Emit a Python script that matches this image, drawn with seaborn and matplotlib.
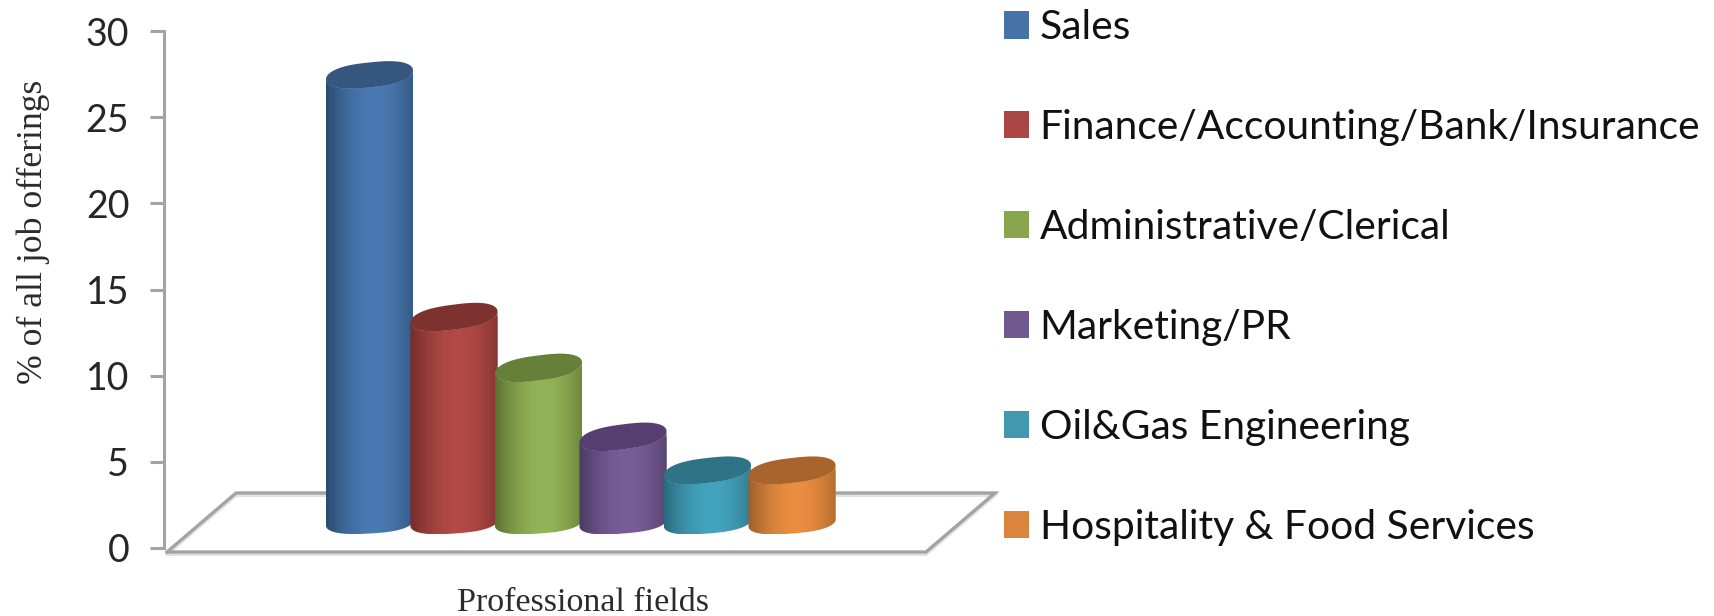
import numpy as np
import pandas as pd
import matplotlib
matplotlib.use("Agg")
import matplotlib.pyplot as plt
from matplotlib.patches import Polygon
from matplotlib.colors import to_rgb
import seaborn as sns

# ---- data ----
fields = ["Sales", "Finance/Accounting/Bank/Insurance", "Administrative/Clerical",
          "Marketing/PR", "Oil&Gas Engineering", "Hospitality & Food Services"]
percent = [26.0, 11.95, 9.0, 5.0, 3.05, 3.05]
yticks = [0, 5, 10, 15, 20, 25, 30]
ylabel = "% of all job offerings"
xlabel = "Professional fields"

# ---- style ----
face_colors = ["#4573A7", "#AA4643", "#89A54E", "#71588F", "#4198AF", "#DB843D"]
mid_colors = ["#4A7AB3", "#B24A47", "#93B558", "#785E99", "#44A4BF", "#EC8E42"]
edge_colors = ["#2B4A70", "#742C2A", "#5A7030", "#4A3A60", "#2A6A7C", "#9A5E28"]
top_colors = ["#34567F", "#7D3230", "#66803A", "#563F70", "#2F7386", "#A8642C"]
top_rise_px = [9, 11, 11, 11, 10, 10]
base_rise_px = [5, 6, 6, 7, 7, 7]
top_minor_px = 12.5
base_minor_px = 10.5
W, H = 1715, 616
AX_L, AX_R, AX_T, AX_B = 164, 925, 31, 548
PITCH = 84.5
FIRST = 369.5
BASE = 1.45
GRAY = "#a3a3a3"

sns.set_theme(style="white")
plt.rcParams["font.family"] = ["Lato", "DejaVu Sans"]

fig = plt.figure(figsize=(W / 100, H / 100), dpi=100, facecolor="white")
ax = fig.add_axes([AX_L / W, 1 - AX_B / H, (AX_R - AX_L) / W, (AX_B - AX_T) / H])
ax.patch.set_alpha(0)

df = pd.DataFrame({"field": fields, "percent": percent})
sns.barplot(data=df, x="field", y="percent", hue="field", order=fields, hue_order=fields,
            palette=face_colors, saturation=1, width=1.03, dodge=False, legend=True,
            ax=ax, zorder=3, linewidth=0)

ax.set_ylim(0, 30)
ax.set_xlim((AX_L - FIRST) / PITCH, (AX_R - FIRST) / PITCH)
ax.set_yticks(yticks)
ax.set_xticks([])
ax.set_xlabel("")
ax.set_ylabel("")
for s in ["top", "right", "bottom"]:
    ax.spines[s].set_visible(False)
ax.spines["left"].set_color(GRAY)
ax.spines["left"].set_linewidth(2.2)
ax.tick_params(axis="y", left=True, length=10, width=2.2, color=GRAY, pad=15,
               labelsize=27, labelcolor="#262626")

# floor (decoration, in figure pixels)
fig_px = lambda x, y: (x / W, 1 - y / H)
floor = [(167, 552), (236, 493), (995, 493), (926, 552), (167, 552)]
for off, col, lw in [(2.5, "#e2e2e2", 2.2), (0, GRAY, 2.4)]:
    xs, ys = zip(*[fig_px(x, y + off) for x, y in floor])
    ax.plot(xs, ys, transform=fig.transFigure, color=col, lw=lw, clip_on=False,
            zorder=1, solid_joinstyle="miter")

# cylinders from the bars seaborn drew
px_y = 30 / (AX_B - AX_T)
t = np.linspace(0, 2 * np.pi, 240)
bars = [p for c in ax.containers for p in c]
bars = sorted([b for b in bars if b.get_height() > 0], key=lambda r: r.get_x())
for i, b in enumerate(bars):
    b.set_y(BASE)
    x0, w = b.get_x(), b.get_width()
    cx = x0 + w / 2
    y_top = b.get_y() + b.get_height()
    y_bot = b.get_y()
    a = w / 2
    st = top_rise_px[i] * px_y / w
    sb = base_rise_px[i] * px_y / w

    def ell(cy, shear, minor, tt):
        # squared ellipse: the rims in the reference have full shoulders
        c, s = np.cos(tt), np.sin(tt)
        dx = a * np.sign(c) * np.abs(c) ** 0.75
        dy = minor * px_y * np.sign(s) * np.abs(s) ** 0.95
        return np.c_[cx + dx, cy + dy + shear * dx]

    lower = np.linspace(np.pi, 2 * np.pi, 120)
    top_lower = ell(y_top, st, top_minor_px, lower)
    base_lower = ell(y_bot, sb, base_minor_px, lower)
    outline = np.vstack([base_lower, top_lower[::-1]])
    body = Polygon(outline, closed=True, transform=ax.transData, fc="none", ec="none")
    ax.add_patch(body)
    b.set_clip_path(body)

    u = np.linspace(0, 1, 256)
    shade = np.clip(np.abs(u - 0.55) / 0.55, 0, 1) ** 1.8
    c_mid, c_edge = np.array(to_rgb(mid_colors[i])), np.array(to_rgb(edge_colors[i]))
    grad = (c_mid[None, :] * (1 - shade[:, None]) + c_edge[None, :] * shade[:, None])[None, :, :]
    ymin, ymax = outline[:, 1].min(), outline[:, 1].max()
    im = ax.imshow(grad, extent=[x0, x0 + w, ymin, ymax], aspect="auto", zorder=3 + i * 0.1,
                   interpolation="bilinear")
    im.set_clip_path(body)
    ax.add_patch(Polygon(ell(y_top, st, top_minor_px, t), closed=True, fc=top_colors[i], ec="none",
                         zorder=3.05 + i * 0.1))

ax.set_ylim(0, 30)
ax.set_xlim((AX_L - FIRST) / PITCH, (AX_R - FIRST) / PITCH)

# axis titles
ax.set_ylabel(ylabel, family=["Liberation Serif"], fontsize=25.7, color="#2b2b2b", va="center")
ax.yaxis.set_label_coords(33 / W, 1 - 232 / H, transform=fig.transFigure)
ax.set_xlabel(xlabel, family=["Liberation Serif"], fontsize=24.5, color="#2b2b2b", va="center")
ax.xaxis.set_label_coords(583 / W, 1 - 603 / H, transform=fig.transFigure)

# legend
sns.move_legend(ax, "upper left", bbox_to_anchor=(996 / W, 1 - 1 / H),
                bbox_transform=fig.transFigure, frameon=False, title=None, fontsize=29.3,
                labelspacing=1.545, handlelength=0.61, handleheight=0.66, handletextpad=0.26,
                borderpad=0.2, borderaxespad=0)
for txt in ax.get_legend().get_texts():
    txt.set_color("#111111")

fig.savefig("out.png", dpi=100, facecolor="white")
